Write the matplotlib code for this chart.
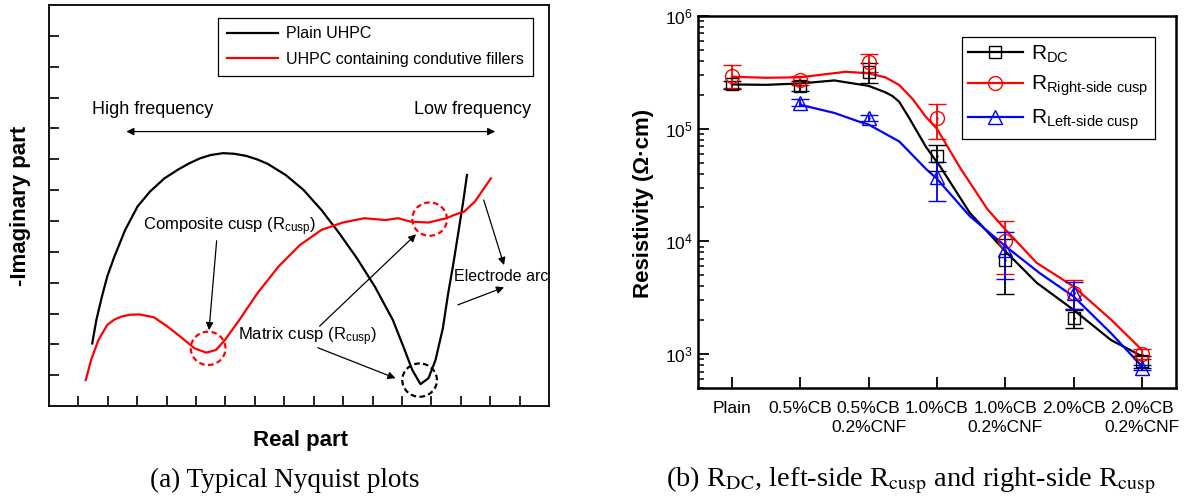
import matplotlib
matplotlib.use('Agg')
import matplotlib.pyplot as plt
from matplotlib.patches import Ellipse
from matplotlib.lines import Line2D

plt.rcParams['font.family'] = ['Liberation Sans', 'DejaVu Sans']
plt.rcParams['mathtext.fontset'] = 'custom'
plt.rcParams['mathtext.rm'] = 'Liberation Sans'
plt.rcParams['mathtext.it'] = 'Liberation Sans:italic'
plt.rcParams['mathtext.bf'] = 'Liberation Sans:bold'

# ---- (a) Nyquist sketch (arbitrary units) ----
plain_x = [1.47, 1.61, 1.80, 1.98, 2.22, 2.59, 3.01, 3.43, 3.92, 4.41, 4.77, 5.13, 5.50, 5.92,
           6.30, 6.71, 7.10, 7.44, 8.05, 8.65, 9.26, 9.87, 10.47, 11.08, 11.69, 12.05, 12.35,
           12.63, 12.90, 13.14, 13.39, 13.57, 13.75, 13.93, 14.09, 14.21]
plain_y = [2.03, 2.79, 3.55, 4.20, 4.84, 5.71, 6.47, 6.95, 7.38, 7.68, 7.87, 8.03, 8.14, 8.20,
           8.18, 8.11, 7.99, 7.85, 7.49, 7.01, 6.36, 5.60, 4.79, 3.87, 2.79, 1.92, 1.17,
           0.71, 0.90, 1.49, 2.52, 3.65, 4.63, 5.71, 6.68, 7.49]
filler_x = [1.25, 1.43, 1.68, 1.98, 2.22, 2.46, 2.75, 3.07, 3.56, 4.04, 4.53, 4.95, 5.35, 5.68,
            5.98, 6.47, 7.08, 7.80, 8.53, 9.26, 9.99, 10.72, 11.44, 11.87, 12.29, 12.90,
            13.51, 13.87, 14.11, 14.48, 15.02]
filler_y = [0.84, 1.49, 2.14, 2.63, 2.80, 2.90, 2.96, 2.97, 2.88, 2.57, 2.20, 1.87, 1.73, 1.82,
            2.14, 2.79, 3.65, 4.52, 5.22, 5.71, 5.95, 6.09, 6.03, 6.09, 5.98, 5.95,
            6.09, 6.23, 6.30, 6.63, 7.38]

# ---- (b) resistivity data ----
groups = ['Plain', '0.5%CB', '0.5%CB\n0.2%CNF', '1.0%CB', '1.0%CB\n0.2%CNF', '2.0%CB', '2.0%CB\n0.2%CNF']
r_dc = [2.47e5, 2.39e5, 3.2e5, 5.7e4, 6.9e3, 2.08e3, 860]
r_dc_err = [2.0e4, 2.5e4, 6.6e4, 1.5e4, 3.5e3, 3.9e2, 103]
r_right = [2.96e5, 2.7e5, 3.88e5, 1.24e5, 1.01e4, 3.5e3, 1.01e3]
r_right_err = [6.8e4, 2.5e4, 6.9e4, 4.3e4, 5.0e3, 1.0e3, 100]
r_left = [float('nan'), 1.7e5, 1.25e5, 3.7e4, 8.4e3, 3.45e3, 760]
r_left_err = [0, 1.2e4, 7e3, 1.4e4, 3.8e3, 9.5e2, 40]

# smoothed lines as drawn in the picture
fit_dc_x = [0, 0.5, 1.0, 1.5, 2.0, 2.25, 2.35, 2.45, 2.6, 2.84, 3.05, 3.48, 4.0, 4.46, 5.0, 5.55, 6.0]
fit_dc_y = [2.47e5, 2.45e5, 2.52e5, 2.68e5, 2.40e5, 2.1e5, 1.95e5, 1.73e5, 1.23e5, 6.9e4, 4.6e4,
            1.8e4, 8.2e3, 4.3e3, 2.47e3, 1.33e3, 960]
fit_right_x = [0, 0.5, 1.0, 1.67, 2.0, 2.25, 2.45, 2.65, 2.84, 3.0, 3.35, 3.74, 4.0, 4.46, 5.0,
               5.55, 6.0]
fit_right_y = [2.89e5, 2.83e5, 2.86e5, 3.2e5, 3.1e5, 2.85e5, 2.44e5, 1.82e5, 1.27e5, 1.0e5, 4.4e4,
               1.93e4, 1.28e4, 6.45e3, 3.98e3, 2.02e3, 1.09e3]
fit_left_x = [1.0, 1.5, 1.87, 2.0, 2.45, 2.84, 3.0, 3.48, 4.0, 4.51, 5.0, 5.55, 6.0]
fit_left_y = [1.63e5, 1.38e5, 1.15e5, 1.09e5, 7.7e4, 4.4e4, 3.6e4, 1.68e4, 9.1e3, 5.2e3,
              3.25e3, 1.53e3, 780]

fig = plt.figure(figsize=(11.92, 5.03), dpi=100)

# ================= panel (a) =================
ax1 = fig.add_axes([0.0411, 0.1928, 0.4195, 0.797])
ax1.plot(plain_x, plain_y, color='black', lw=1.6, label='Plain UHPC')
ax1.plot(filler_x, filler_y, color='red', lw=1.6, label='UHPC containing condutive fillers')
ax1.set_xlim(0, 17)
ax1.set_ylim(0, 13)
ax1.set_xticks(range(1, 17))
ax1.set_yticks(range(1, 13))
ax1.tick_params(direction='in', length=7, width=1.2, labelbottom=False, labelleft=False)
for s in ax1.spines.values():
    s.set_linewidth(1.3)

# dashed circles around the cusps
for (cx, cy, col) in [(5.41, 1.87, 'red'), (12.94, 6.06, 'red'), (12.60, 0.84, 'black')]:
    ax1.add_patch(Ellipse((cx, cy), 1.18, 1.08, fill=False, ec=col, ls=(0, (2.5, 1.5)), lw=1.6))

arr = dict(arrowstyle='-|>', color='black', lw=0.9, mutation_scale=11, shrinkA=0, shrinkB=0)
ax1.annotate('', xy=(2.63, 8.9), xytext=(15.17, 8.9),
             arrowprops=dict(arrowstyle='<|-|>', color='black', lw=0.9, mutation_scale=11,
                             shrinkA=0, shrinkB=0))
ax1.text(1.47, 9.62, 'High frequency', fontsize=13, va='center')
ax1.text(12.42, 9.62, 'Low frequency', fontsize=13, va='center')
ax1.text(3.19, 5.82, r'Composite cusp (R$_{\mathrm{cusp}}$)', fontsize=12, va='center')
ax1.text(6.44, 2.25, r'Matrix cusp (R$_{\mathrm{cusp}}$)', fontsize=12, va='center')
ax1.text(13.77, 4.19, 'Electrode arc', fontsize=11.5, va='center')
ax1.annotate('', xy=(5.44, 2.46), xytext=(5.70, 5.36), arrowprops=arr)
ax1.annotate('', xy=(12.48, 5.57), xytext=(9.20, 2.59), arrowprops=arr)
ax1.annotate('', xy=(11.78, 0.90), xytext=(9.14, 1.89), arrowprops=arr)
ax1.annotate('', xy=(15.47, 4.57), xytext=(14.78, 6.68), arrowprops=arr)
ax1.annotate('', xy=(15.47, 3.85), xytext=(13.90, 3.28), arrowprops=arr)

leg1 = ax1.legend(loc='upper right', bbox_to_anchor=(0.968, 0.969), fontsize=11.5,
                  handlelength=3.2, fancybox=False, edgecolor='black', framealpha=1,
                  borderpad=0.55, labelspacing=0.65, handletextpad=0.5, borderaxespad=0)
leg1.get_frame().set_linewidth(0.9)

ax1.text(-0.056, 0.5, '-Imaginary part', transform=ax1.transAxes, rotation=90,
         fontsize=16, fontweight='bold', ha='center', va='center')
ax1.text(0.502, -0.06, 'Real part', transform=ax1.transAxes,
         fontsize=16, fontweight='bold', ha='center', va='top')

# ================= panel (b) =================
ax2 = fig.add_axes([0.5853, 0.2286, 0.4013, 0.7396])
xs = list(range(len(groups)))
ax2.plot(fit_dc_x, fit_dc_y, color='black', lw=1.6)
ax2.plot(fit_right_x, fit_right_y, color='red', lw=1.6)
ax2.plot(fit_left_x, fit_left_y, color='blue', lw=1.6)
ebk = dict(ls='none', capsize=6.5, elinewidth=1.3, capthick=1.3, mfc='none', mew=1.0)
ax2.errorbar(xs, r_dc, yerr=r_dc_err, fmt='s', ms=8, color='black', **ebk)
ax2.errorbar(xs, r_right, yerr=r_right_err, fmt='o', ms=10, color='red', **ebk)
ax2.errorbar(xs[1:], r_left[1:], yerr=r_left_err[1:], fmt='^', ms=10, color='blue', **ebk)
for vals, col in [(r_dc, 'black'), (r_right, 'red'), (r_left, 'blue')]:
    ax2.plot(xs, vals, ls='none', marker='.', ms=1.5, color=col)

ax2.set_yscale('log')
ax2.set_ylim(500, 1e6)
ax2.set_xlim(-0.5, 6.5)
ax2.set_xticks(xs)
ax2.set_xticklabels(groups, fontsize=12, linespacing=1.35)
ax2.tick_params(axis='both', which='major', direction='in', length=8, width=1.3,
                labelsize=12.5, right=False, top=False)
ax2.tick_params(axis='y', which='minor', direction='in', length=4, width=1.1)
ax2.tick_params(axis='x', pad=9)
for s in ax2.spines.values():
    s.set_linewidth(1.8)
ax2.text(-0.114, 0.497, 'Resistivity (\u03a9\u00b7cm)', transform=ax2.transAxes, rotation=90,
         fontsize=16, fontweight='bold', ha='center', va='center')

handles = [Line2D([], [], color='black', marker='s', mfc='none', ms=8, lw=1.6),
           Line2D([], [], color='red', marker='o', mfc='none', ms=10, lw=1.6),
           Line2D([], [], color='blue', marker='^', mfc='none', ms=10, lw=1.6)]
labels = [r'R$_{\mathrm{DC}}$', r'R$_{\mathrm{Right\text{-}side\ cusp}}$', r'R$_{\mathrm{Left\text{-}side\ cusp}}$']
leg2 = ax2.legend(handles, labels, loc='upper right', bbox_to_anchor=(0.955, 0.9435),
                  fontsize=15, handlelength=2.6, fancybox=False, edgecolor='black',
                  framealpha=1, borderpad=0.3, labelspacing=0.45, handletextpad=0.4,
                  borderaxespad=0)
leg2.get_frame().set_linewidth(0.9)

# captions
fig.text(285 / 1192, 1 - 480 / 503, '(a) Typical Nyquist plots', fontsize=19.5,
         family='Liberation Serif', ha='center', va='center')
fig.text(911 / 1192, 1 - 480 / 503,
         r'(b) R$_{\mathrm{DC}}$, left-side R$_{\mathrm{cusp}}$ and right-side R$_{\mathrm{cusp}}$',
         fontsize=20.5, family='Liberation Serif', math_fontfamily='stix', ha='center', va='center')

fig.savefig('out.png', dpi=100)
